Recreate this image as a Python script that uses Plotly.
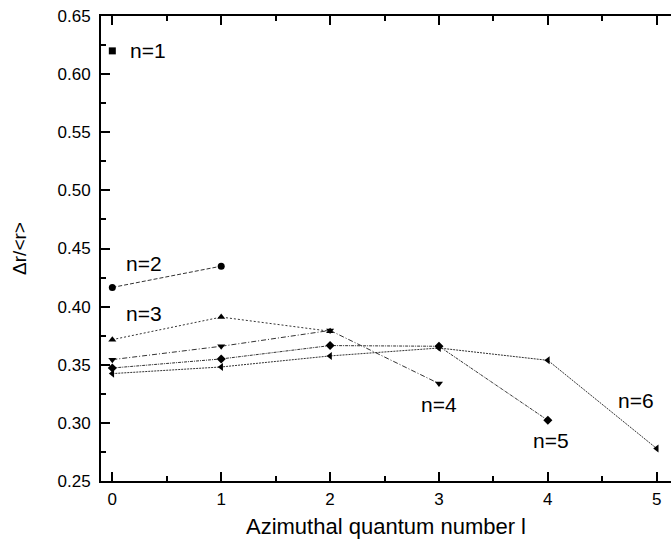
import plotly.graph_objects as go

# Data: azimuthal quantum number l vs. Δr/<r> for n = 1..6
l_n1 = [0]
v_n1 = [0.620]
l_n2 = [0, 1]
v_n2 = [0.4165, 0.4348]
l_n3 = [0, 1, 2]
v_n3 = [0.3716, 0.3910, 0.3788]
l_n4 = [0, 1, 2, 3]
v_n4 = [0.3544, 0.3659, 0.3795, 0.3338]
l_n5 = [0, 1, 2, 3, 4]
v_n5 = [0.3472, 0.3550, 0.3665, 0.3659, 0.3022]
l_n6 = [0, 1, 2, 3, 4, 5]
v_n6 = [0.3424, 0.3481, 0.3576, 0.3644, 0.3538, 0.2779]

series = [
    ("n=1", l_n1, v_n1, "square", "solid"),
    ("n=2", l_n2, v_n2, "circle", "4px,2px"),
    ("n=3", l_n3, v_n3, "triangle-up", "2px,2px"),
    ("n=4", l_n4, v_n4, "triangle-down", "5px,2px,1px,2px"),
    ("n=5", l_n5, v_n5, "diamond", "3px,1px,1px,1px"),
    ("n=6", l_n6, v_n6, "triangle-left", "2px,1px"),
]

label_text = ["n=1", "n=2", "n=3", "n=4", "n=5", "n=6"]
label_x = [0.14, 0.11, 0.11, 3.0, 4.03, 4.81]
label_y = [0.6205, 0.437, 0.3943, 0.316, 0.285, 0.3194]
label_anchor = ["left", "left", "left", "center", "center", "center"]

fig = go.Figure()
for name, xs, ys, sym, dash in series:
    fig.add_trace(go.Scatter(
        x=xs, y=ys, name=name,
        mode="lines+markers" if len(xs) > 1 else "markers",
        line=dict(color="#333333", width=1, dash=dash),
        marker=dict(symbol=sym, size=7, color="black"),
        showlegend=False,
        cliponaxis=False,
    ))

for t, x, y, a in zip(label_text, label_x, label_y, label_anchor):
    fig.add_annotation(x=x, y=y, text=t, showarrow=False, xanchor=a,
                       yanchor="middle", font=dict(size=21, color="black"))

fig.update_layout(
    width=671, height=550,
    margin=dict(l=101, r=0, t=16, b=69),
    plot_bgcolor="white", paper_bgcolor="white",
    font=dict(family="Liberation Sans, Arial, sans-serif", color="black"),
)
fig.update_xaxes(
    range=[-0.104, 5.131],
    tickmode="array", tickvals=[0, 1, 2, 3, 4, 5],
    ticks="inside", ticklen=9, tickwidth=1.5, tickcolor="black",
    minor=dict(tickvals=[0.5, 1.5, 2.5, 3.5, 4.5], ticks="inside", ticklen=5,
               tickcolor="black", tickwidth=1.5),
    showline=True, linewidth=2, linecolor="black", mirror="ticks",
    showgrid=False, zeroline=False,
    tickfont=dict(size=17), ticklabelstandoff=2,
    title=dict(text="Azimuthal quantum number l", font=dict(size=22), standoff=10),
)
fig.update_yaxes(
    range=[0.25, 0.65],
    tickmode="array",
    tickvals=[0.25, 0.30, 0.35, 0.40, 0.45, 0.50, 0.55, 0.60, 0.65],
    ticktext=["0.25", "0.30", "0.35", "0.40", "0.45", "0.50", "0.55", "0.60", "0.65"],
    ticks="inside", ticklen=9, tickwidth=1.5, tickcolor="black",
    minor=dict(tickvals=[0.275, 0.325, 0.375, 0.425, 0.475, 0.525, 0.575, 0.625],
               ticks="inside", ticklen=5, tickcolor="black", tickwidth=1.5),
    showline=True, linewidth=2, linecolor="black", mirror=False,
    showgrid=False, zeroline=False,
    tickfont=dict(size=17), ticklabelstandoff=5,
    title=dict(text="Δr/<r>", font=dict(size=19), standoff=26),
)

fig.write_html("out.html", config={"displayModeBar": False},
               post_script="document.body.style.margin='0px';document.body.style.overflow='hidden';")
